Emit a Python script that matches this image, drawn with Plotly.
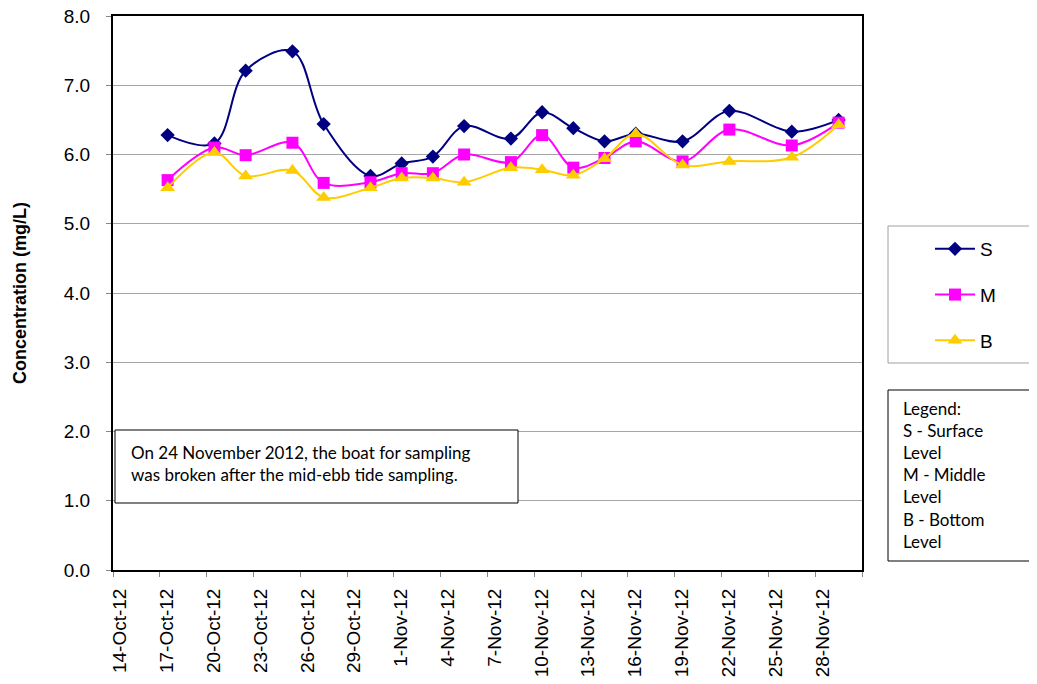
import plotly.graph_objects as go
import pandas as pd

dates = ["2012-10-17", "2012-10-20", "2012-10-22", "2012-10-25", "2012-10-27", "2012-10-30",
         "2012-11-01", "2012-11-03", "2012-11-05", "2012-11-08", "2012-11-10", "2012-11-12",
         "2012-11-14", "2012-11-16", "2012-11-19", "2012-11-22", "2012-11-26", "2012-11-29"]
s_vals = [6.28, 6.16, 7.21, 7.49, 6.44, 5.69, 5.87, 5.97, 6.41, 6.23, 6.61, 6.38,
          6.19, 6.30, 6.19, 6.63, 6.33, 6.50]
m_vals = [5.63, 6.10, 5.99, 6.17, 5.59, 5.60, 5.73, 5.73, 6.00, 5.89, 6.28, 5.81,
          5.95, 6.19, 5.90, 6.36, 6.13, 6.46]
b_vals = [5.52, 6.03, 5.69, 5.77, 5.38, 5.52, 5.66, 5.66, 5.60, 5.81, 5.78, 5.70,
          5.94, 6.30, 5.85, 5.90, 5.96, 6.43]
y_ticks = [0, 1, 2, 3, 4, 5, 6, 7, 8]
tick_dates = ["2012-10-14", "2012-10-17", "2012-10-20", "2012-10-23", "2012-10-26", "2012-10-29",
              "2012-11-01", "2012-11-04", "2012-11-07", "2012-11-10", "2012-11-13", "2012-11-16",
              "2012-11-19", "2012-11-22", "2012-11-25", "2012-11-28"]
tick_labels = ["14-Oct-12", "17-Oct-12", "20-Oct-12", "23-Oct-12", "26-Oct-12", "29-Oct-12",
               "1-Nov-12", "4-Nov-12", "7-Nov-12", "10-Nov-12", "13-Nov-12", "16-Nov-12",
               "19-Nov-12", "22-Nov-12", "25-Nov-12", "28-Nov-12"]
note_text = "On 24 November 2012, the boat for sampling<br>was broken after the mid-ebb tide sampling."
legend_note = "Legend:<br>S - Surface<br>Level<br>M - Middle<br>Level<br>B - Bottom<br>Level"

# Excel-style date axis: points sit in the middle of each day, ticks on day boundaries
x = pd.to_datetime(dates) + pd.Timedelta(hours=12)
tick_marks = list(pd.to_datetime(tick_dates)) + [pd.Timestamp("2012-12-01")]
label_pos = pd.to_datetime(tick_dates) + pd.Timedelta(hours=11)  # Excel offsets rotated labels
x_range = [pd.Timestamp("2012-10-14"), pd.Timestamp("2012-12-01")]

OFF = 8  # page body margin
W, H = 1037 - OFF, 684 - OFF
L, R, T, B = 113, 862, 16, 570   # plot area in window pixels
def px(v):
    return (v - L) / (R - L)
def py(v):
    return (B - v) / (B - T)

fig = go.Figure()
series = [("S", s_vals, "#000080", "diamond", 11),
          ("M", m_vals, "#FF00FF", "square", 12),
          ("B", b_vals, "#FFCC00", "triangle-up", 13)]
for name, vals, col, sym, sz in series:
    fig.add_trace(go.Scatter(
        x=x, y=vals, name=name, mode="lines+markers",
        line=dict(color=col, width=2, shape="spline", smoothing=1),
        marker=dict(symbol=sym, size=sz, color=col),
        legendgroup=name))

axis_font = dict(family="Liberation Sans, Arial", size=19, color="black")
fig.update_layout(
    width=W, height=H,
    margin=dict(l=L - OFF, r=W - (R - OFF), t=T - OFF, b=H - (B - OFF), pad=0,
                autoexpand=False),
    plot_bgcolor="white", paper_bgcolor="white",
    showlegend=True,
    legend=dict(x=px(930), y=py(230), xanchor="left", yanchor="top",
                font=dict(family="Liberation Sans, Arial", size=19, color="black"),
                bgcolor="rgba(0,0,0,0)", borderwidth=0,
                tracegroupgap=18, itemwidth=40),
    xaxis=dict(type="date", range=x_range, tickmode="array", tickvals=label_pos,
               ticktext=tick_labels, tickangle=-90, tickfont=axis_font,
               ticks="", ticklen=5, automargin=False,
               minor=dict(tickmode="array", tickvals=tick_marks, ticks="outside",
                          ticklen=5, tickcolor="#888", showgrid=False),
               showline=True, linecolor="black", linewidth=2, mirror=True,
               showgrid=False, zeroline=False, ticklabelstandoff=9),
    yaxis=dict(range=[0, 8], tickmode="array", tickvals=y_ticks, tickformat=".1f",
               tickfont=axis_font, ticklabeloverflow="allow", automargin=False,
               ticks="outside", ticklen=5, tickcolor="#888",
               showline=True, linecolor="black", linewidth=2, mirror=True,
               showgrid=True, gridcolor="#A6A6A6", gridwidth=1, zeroline=False,
               ticklabelstandoff=12,
               title=dict(text="<b>Concentration (mg/L)</b>",
                          font=dict(family="Liberation Sans, Arial", size=18, color="black"),
                          standoff=32)),
)

note_font = dict(family="Lato, Open Sans", size=17, color="black")
shapes = [
    dict(type="rect", xref="paper", yref="paper", x0=px(888), x1=px(1045), y0=py(226), y1=py(363),
         line=dict(color="#A0A0A0", width=1), fillcolor="rgba(0,0,0,0)"),
    dict(type="rect", xref="paper", yref="paper", x0=px(888), x1=px(1045), y0=py(390), y1=py(561),
         line=dict(color="black", width=1), fillcolor="white"),
    dict(type="rect", xref="paper", yref="paper", x0=px(115), x1=px(518), y0=py(430), y1=py(503),
         line=dict(color="black", width=1), fillcolor="white"),
]
fig.update_layout(shapes=shapes)
fig.add_annotation(xref="paper", yref="paper", x=px(129), y=py(440), xanchor="left", yanchor="top",
                   text=note_text, showarrow=False, align="left", font=note_font)
fig.add_annotation(xref="paper", yref="paper", x=px(901), y=py(396), xanchor="left", yanchor="top",
                   text=legend_note, showarrow=False, align="left", font=note_font)

fig.write_html("out.html")
